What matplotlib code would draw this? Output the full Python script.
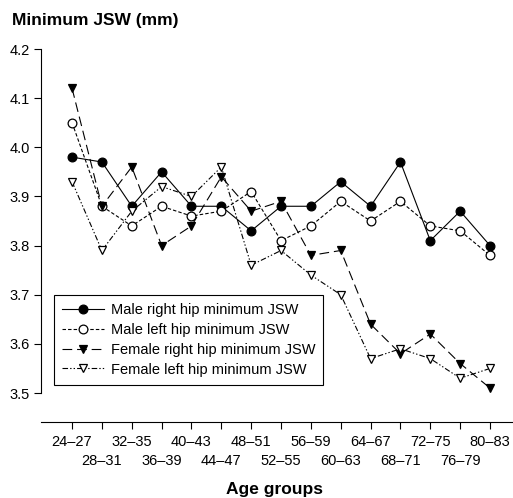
"""Minimum JSW by age group, four hip series (static PNG)."""

import matplotlib

matplotlib.use("Agg")

import matplotlib.pyplot as plt

plt.rcParams["font.family"] = ["Liberation Sans", "DejaVu Sans"]
plt.rcParams["lines.scale_dashes"] = False

age_groups = [
    "24–27", "28–31", "32–35", "36–39", "40–43", "44–47", "48–51", "52–55",
    "56–59", "60–63", "64–67", "68–71", "72–75", "76–79", "80–83",
]
male_right = [3.98, 3.97, 3.88, 3.95, 3.88, 3.88, 3.83, 3.88, 3.88, 3.93, 3.88, 3.97, 3.81, 3.87, 3.80]
male_left = [4.05, 3.88, 3.84, 3.88, 3.86, 3.87, 3.91, 3.81, 3.84, 3.89, 3.85, 3.89, 3.84, 3.83, 3.78]
female_right = [4.12, 3.88, 3.96, 3.80, 3.84, 3.94, 3.87, 3.89, 3.78, 3.79, 3.64, 3.58, 3.62, 3.56, 3.51]
female_left = [3.93, 3.79, 3.87, 3.92, 3.90, 3.96, 3.76, 3.79, 3.74, 3.70, 3.57, 3.59, 3.57, 3.53, 3.55]
y_ticks = [3.5, 3.6, 3.7, 3.8, 3.9, 4.0, 4.1, 4.2]

W, H = 513, 498
fig = plt.figure(figsize=(W / 100, H / 100), dpi=100)
ax = fig.add_axes((41 / W, 1 - 422 / H, 1 - 41 / W, (422 - 49) / H))

x = list(range(len(age_groups)))
common = {"color": "black", "linewidth": 0.8, "markersize": 6.3, "markeredgewidth": 0.9, "clip_on": False}

ax.plot(x, male_right, marker="o", markerfacecolor="black", linestyle="-",
        label="Male right hip minimum JSW", **common)
ax.plot(x, male_left, marker="o", markerfacecolor="white", dashes=(2.5, 1.5),
        label="Male left hip minimum JSW", **common)
ax.plot(x, female_right, marker="v", markerfacecolor="black", dashes=(7, 3.5),
        label="Female right hip minimum JSW", **common)
ax.plot(x, female_left, marker="v", markerfacecolor="white", dashes=(4, 1.5, 1, 1.5, 1, 1.5),
        label="Female left hip minimum JSW", **common)

# axis ranges picked so the bottom axis sits below 3.5 and the y spine stops at 3.5
ax.set_ylim(3.441, 4.2)
ax.set_xlim(-1.04, 14.77)
ax.spines["top"].set_visible(False)
ax.spines["right"].set_visible(False)
ax.spines["left"].set_bounds(3.5, 4.2)
for side in ("left", "bottom"):
    ax.spines[side].set_linewidth(0.8)

ax.set_yticks(y_ticks)
ax.set_yticklabels([f"{v:.1f}" for v in y_ticks])

# two staggered rows of age labels: even groups on major ticks, odd ones on minor ticks
ax.set_xticks(x[0::2])
ax.set_xticklabels(age_groups[0::2])
ax.set_xticks(x[1::2], minor=True)
ax.set_xticklabels(age_groups[1::2], minor=True)

ax.tick_params(axis="both", which="both", direction="out", length=5, width=0.8,
               labelsize=10.5, colors="black")
ax.tick_params(axis="x", which="major", pad=4)
ax.tick_params(axis="x", which="minor", pad=18)
ax.tick_params(axis="y", pad=3)

fig.text(0.5 * (1 + 41 / W) - 0.005, 1 - 489 / H, "Age groups", fontsize=12.5,
         fontweight="bold", ha="center", va="center")
fig.text(12 / W, 1 - 21 / H, "Minimum JSW (mm)", fontsize=12.5, fontweight="bold",
         ha="left", va="center")

leg = ax.legend(
    loc="upper left",
    bbox_to_anchor=((54 - 41) / 472, (422 - 295) / 373),
    borderaxespad=0,
    fontsize=10.5,
    numpoints=1,
    handlelength=2.9,
    handletextpad=0.45,
    labelspacing=0.4,
    borderpad=0.55,
    fancybox=False,
    framealpha=1,
    edgecolor="black",
)
leg.get_frame().set_linewidth(0.8)

fig.savefig("out.png", dpi=100)
plt.close(fig)
